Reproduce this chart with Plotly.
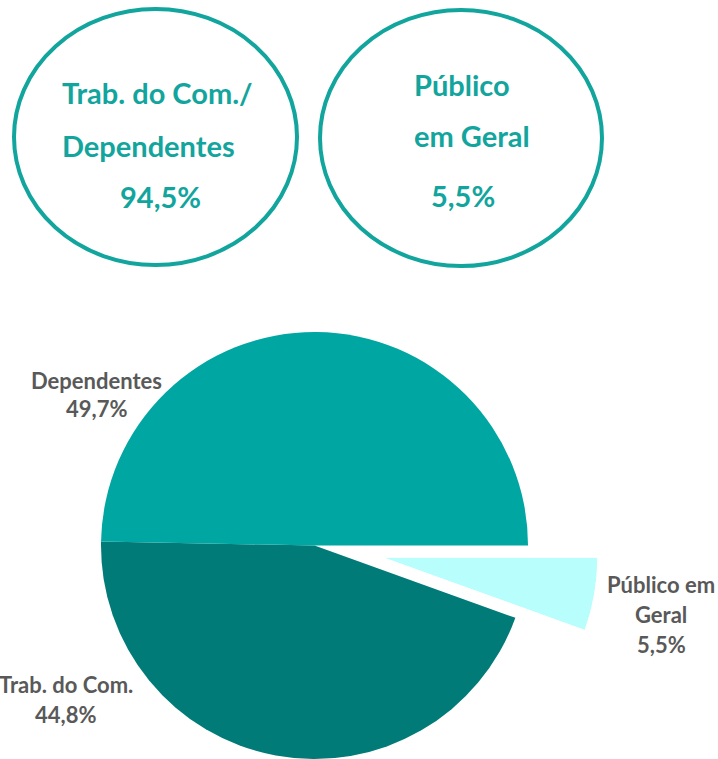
import math

import plotly.graph_objects as go

W, H = 718, 759

# data
categories = ["Dependentes", "Trab. do Com.", "Público em Geral"]
shares = [49.7, 44.8, 5.5]
pie_label_lines = [["Dependentes"], ["Trab. do Com."], ["Público em", "Geral"]]

group_lines = [["Trab. do Com./", "Dependentes"], ["Público", "em Geral"]]
group_shares = [94.5, 5.5]

# style
TEAL = "#12A59D"
GREY = "#595959"
COLORS = {"Dependentes": "#00A6A1", "Trab. do Com.": "#007B78", "Público em Geral": "#B8FEFD"}
FONT = "Lato, 'Open Sans', sans-serif"

PIE_CX, PIE_CY, PIE_R = 314.5, 545.5, 213.5
PULL = 0.33


def pct(v):
    return f"{v:.1f}".replace(".", ",") + "%"


def px(x):
    return x / W


def py(y):
    return 1 - y / H


fig = go.Figure()

# main pie, clockwise from 3 o'clock; the pulled slice is drawn on its own
order = [2, 1, 0]
fig.add_trace(
    go.Pie(
        labels=[categories[i] for i in order],
        values=[shares[i] for i in order],
        sort=False,
        direction="clockwise",
        rotation=90,
        marker=dict(
            colors=[
                "rgba(0,0,0,0)" if i == 2 else COLORS[categories[i]] for i in order
            ],
            line=dict(width=0),
        ),
        textinfo="none",
        showlegend=False,
        domain=dict(
            x=[px(PIE_CX - PIE_R), px(PIE_CX + PIE_R)],
            y=[0, 2 * PIE_R / H],
        ),
    )
)

# exploded slice
span = shares[2] / sum(shares) * 360
mid = math.radians(span / 2)
ax = PIE_CX + PULL * PIE_R * math.cos(mid)
ay = PIE_CY + PULL * PIE_R * math.sin(mid)
fig.add_trace(
    go.Barpolar(
        r=[1],
        theta=[-span / 2],
        width=[span],
        marker=dict(color=COLORS[categories[2]], line=dict(width=0)),
        showlegend=False,
        hovertext=[f"{categories[2]}: {pct(shares[2])}"],
        hoverinfo="text",
    )
)
fig.update_layout(
    polar=dict(
        domain=dict(
            x=[px(ax), px(ax + PIE_R)],
            y=[py(ay + PIE_R * math.sin(math.radians(span))), py(ay)],
        ),
        sector=[-span, 0],
        bgcolor="rgba(0,0,0,0)",
        radialaxis=dict(visible=False, range=[0, 1]),
        angularaxis=dict(visible=False, direction="counterclockwise", rotation=0),
    )
)

annotations = []

# pie labels
label_pos = [(97, [380, 409]), (65.5, [684, 714.5]), (661, [584, 614, 644])]
for i, (x, ys) in enumerate(label_pos):
    lines = pie_label_lines[i] + [pct(shares[i])]
    for text, y in zip(lines, ys):
        annotations.append(
            dict(
                text=f"<b>{text}</b>",
                x=px(x),
                y=py(y),
                xref="paper",
                yref="paper",
                xanchor="center",
                yanchor="middle",
                showarrow=False,
                font=dict(size=22, color=GREY, family=FONT),
            )
        )

# ellipses on top
ellipses = [(14, 9, 297, 265), (320, 10, 602, 266)]
text_left = [(60, [93, 145.5], 160.5, 196), (412, [85, 135.5], 463, 195)]
shapes = []
for k, (x0, y0, x1, y1) in enumerate(ellipses):
    shapes.append(
        dict(
            type="circle",
            xref="paper",
            yref="paper",
            x0=px(x0),
            x1=px(x1),
            y0=py(y1),
            y1=py(y0),
            line=dict(color=TEAL, width=4),
        )
    )
    lx, lys, nx, ny = text_left[k]
    for text, y in zip(group_lines[k], lys):
        annotations.append(
            dict(
                text=f"<b>{text}</b>",
                x=px(lx),
                y=py(y),
                xref="paper",
                yref="paper",
                xanchor="left",
                yanchor="middle",
                showarrow=False,
                font=dict(size=29, color=TEAL, family=FONT),
            )
        )
    annotations.append(
        dict(
            text=f"<b>{pct(group_shares[k])}</b>",
            x=px(nx),
            y=py(ny),
            xref="paper",
            yref="paper",
            xanchor="center",
            yanchor="middle",
            showarrow=False,
            font=dict(size=29, color=TEAL, family=FONT),
        )
    )

fig.update_layout(
    width=W,
    height=H,
    margin=dict(l=0, r=0, t=0, b=0),
    paper_bgcolor="white",
    plot_bgcolor="white",
    shapes=shapes,
    annotations=annotations,
)

# drop the page's default body margin so the figure sits at the window corner
fig.write_html(
    "out.html",
    config={"displayModeBar": False},
    post_script="document.body.style.margin = '0';",
)
